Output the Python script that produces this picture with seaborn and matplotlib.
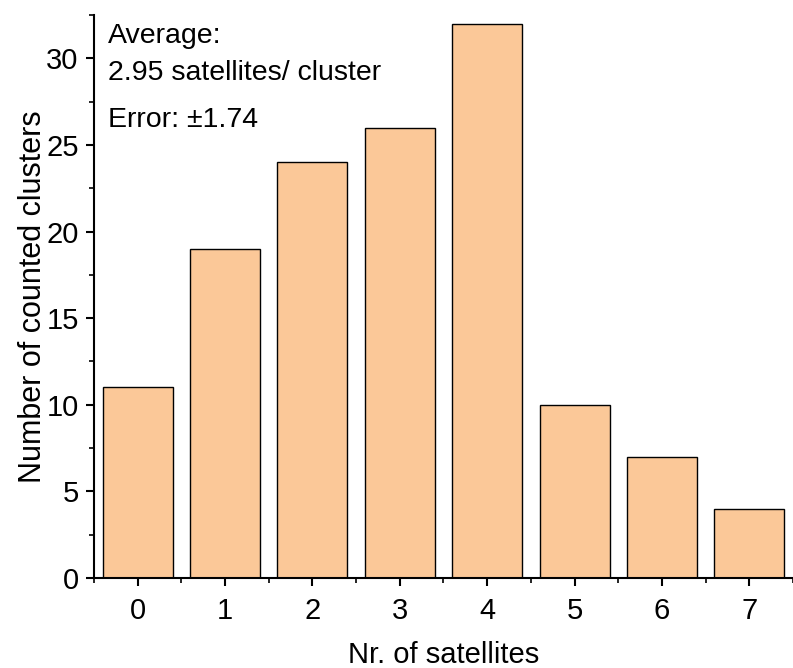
import matplotlib
matplotlib.use("Agg")
import matplotlib.pyplot as plt
import seaborn as sns
import pandas as pd
from matplotlib.ticker import MultipleLocator, FixedLocator

categories = ["0", "1", "2", "3", "4", "5", "6", "7"]
counts = [11, 19, 24, 26, 32, 10, 7, 4]
y_ticks = [0, 5, 10, 15, 20, 25, 30]

sns.set_theme(style="ticks")
plt.rcParams['font.family'] = ['Liberation Sans', 'DejaVu Sans']

df = pd.DataFrame({"sat": categories, "count": counts})

fig = plt.figure(figsize=(7.93, 6.68), dpi=100)
ax = fig.add_axes([0.1185, 0.1347, 0.8815, 0.8428])

sns.barplot(data=df, x="sat", y="count", order=categories, color="#FBC898",
            saturation=1, edgecolor="black", linewidth=1.0, width=0.8, ax=ax)

ax.set_xlim(-0.5, 7.5)
ax.set_ylim(0, 32.5)
ax.set_yticks(y_ticks)
ax.yaxis.set_minor_locator(MultipleLocator(2.5))
ax.xaxis.set_minor_locator(FixedLocator([i - 0.5 for i in range(9)]))

for s in ["top", "right"]:
    ax.spines[s].set_visible(False)
for s in ["left", "bottom"]:
    ax.spines[s].set_linewidth(1.5)
    ax.spines[s].set_color("black")

ax.tick_params(which="major", direction="out", length=6, width=1.5, labelsize=21, colors="black", pad=5)
ax.tick_params(which="minor", direction="out", length=3.5, width=1.2, colors="black")
ax.tick_params(axis="x", which="major", pad=8)

ax.set_xlabel("Nr. of satellites", fontsize=21, labelpad=11, color="black")
ax.set_ylabel("Number of counted clusters", fontsize=22, labelpad=-1, color="black")

txt_kw = dict(transform=ax.transAxes, fontsize=20.5, va="baseline", ha="left", color="black")
ax.text(0.02, 0.950, "Average:", **txt_kw)
ax.text(0.02, 0.8845, "2.95 satellites/ cluster", **txt_kw)
ax.text(0.02, 0.801, "Error: \u00b11.74", **txt_kw)

fig.savefig("out.png", dpi=100)
